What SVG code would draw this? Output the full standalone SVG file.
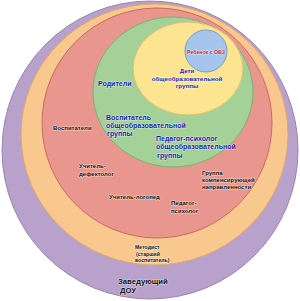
<svg xmlns="http://www.w3.org/2000/svg" width="300" height="301" viewBox="0 0 300 301">
<style>
.t{font-family:"Liberation Sans",Arial,sans-serif;font-weight:bold;paint-order:stroke;stroke:#ffffff;stroke-opacity:0.55;stroke-width:1.2px;stroke-linejoin:round}
.k{fill:#111111;font-size:6px}
.b{fill:#1f1fa8;font-size:7px}
.s{fill:#111111;font-size:5.2px}
.r{fill:#c4213d;font-size:5.2px}
.z{fill:#111111;font-size:7.7px}
</style>
<rect width="300" height="301" fill="#ffffff"/>
<g id="dou">
<ellipse cx="150" cy="150" rx="148" ry="149" fill="#b8a2cb" stroke="#9a84b0" stroke-width="1"/>
<text class="t z" x="118" y="284">Заведующий</text>
<text class="t z" x="120" y="292.5">ДОУ</text>
</g>
<g id="metodist">
<ellipse cx="154.5" cy="134.5" rx="133.5" ry="130.5" fill="#f9c88f" stroke="#e2a868" stroke-width="1"/>
<text class="t s" x="135" y="249">Методист</text>
<text class="t s" x="136" y="255.5">(старший</text>
<text class="t s" x="135" y="262">воспитатель)</text>
</g>
<g id="gruppa-komp">
<circle cx="157" cy="123" r="115" fill="#e8968e" stroke="#c86a62" stroke-width="1"/>
<text class="t k" x="53" y="130">Воспитатели</text>
<text class="t k" x="79" y="168">Учитель-</text>
<text class="t k" x="79" y="176">дефектолог</text>
<text class="t k" x="109" y="199">Учитель-логопед</text>
<text class="t k" x="171" y="205">Педагог-</text>
<text class="t k" x="171" y="213">психолог</text>
<text class="t k" x="202" y="175">Группа</text>
<text class="t k" x="202" y="182">компенсирующей</text>
<text class="t k" x="202" y="189">направленности</text>
</g>
<g id="roditeli">
<ellipse cx="173" cy="92" rx="80" ry="75" fill="#a3d197" stroke="#7fb073" stroke-width="1"/>
<text class="t b" x="98" y="85.5">Родители</text>
<text class="t b" x="106" y="119.5">Воспитатель</text>
<text class="t b" x="106" y="127.5">общеобразовательной</text>
<text class="t b" x="107" y="135.5">группы</text>
<text class="t b" x="156" y="140.5">Педагог-психолог</text>
<text class="t b" x="156" y="149">общеобразовательной</text>
<text class="t b" x="157" y="157.5">группы</text>
</g>
<g id="deti">
<ellipse cx="188" cy="68.5" rx="55" ry="46.5" fill="#fde491" stroke="#dcc070" stroke-width="1"/>
<text class="t b" x="187" y="73" text-anchor="middle" style="font-size:6.2px">Дети</text>
<text class="t b" x="187" y="80.5" text-anchor="middle" style="font-size:6.2px">общеобразовательной</text>
<text class="t b" x="187" y="88" text-anchor="middle" style="font-size:6.2px">группы</text>
</g>
<g id="rebenok">
<circle cx="206" cy="51" r="21" fill="#a5c5ec" stroke="#7a9cc6" stroke-width="1"/>
<text class="t r" x="206" y="53.5" text-anchor="middle">Ребенок с ОВЗ</text>
</g>
<g id="connectors"/>
</svg>
